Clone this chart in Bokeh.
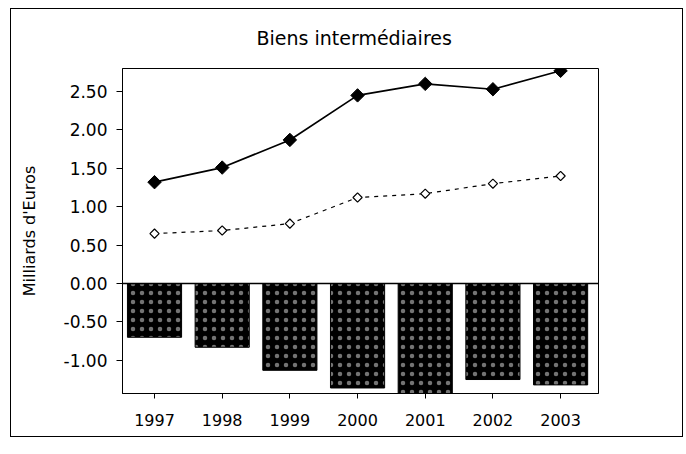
import math
from bokeh.plotting import figure
from bokeh.models import Range1d, FixedTicker, NumeralTickFormatter, Span, ColumnDataSource, Title
from bokeh.embed import file_html
from bokeh.resources import INLINE

years = [1997, 1998, 1999, 2000, 2001, 2002, 2003]
solid_series = [1.32, 1.51, 1.87, 2.45, 2.60, 2.53, 2.77]
dashed_series = [0.65, 0.69, 0.78, 1.12, 1.17, 1.30, 1.40]
bar_series = [-0.70, -0.83, -1.13, -1.36, -1.45, -1.25, -1.32]
y_ticks = [-1.0, -0.5, 0.0, 0.5, 1.0, 1.5, 2.0, 2.5]
title_text = "Biens intermédiaires"
y_label = "Milliards d'Euros"

FONT = "DejaVu Sans"

src = ColumnDataSource(dict(x=years, s=solid_series, d=dashed_series, b=bar_series))

p = figure(width=673, height=429, output_backend="svg", toolbar_location=None,
           x_range=Range1d(1996.527, 2003.56), y_range=Range1d(-1.432, 2.80),
           min_border_left=111, min_border_right=86, min_border_top=59, min_border_bottom=45)
p.styles = {"border": "1px solid black"}
p.margin = (8, 0, 0, 10)

t = Title(text=title_text, align="left", vertical_align="top", text_font=FONT,
          text_font_size="19px", text_font_style="normal", text_color="black",
          standoff=35, offset=134)
p.add_layout(t, "above")

p.xgrid.visible = False
p.ygrid.visible = False
p.outline_line_color = "black"
p.outline_line_width = 1
p.background_fill_color = "white"
p.border_fill_color = "white"

p.vbar(x="x", top=0, bottom="b", width=0.8, source=src, fill_color="black",
       line_color="black", hatch_pattern="dot", hatch_color="white",
       hatch_scale=9, hatch_weight=1, hatch_alpha=0.45)

p.add_layout(Span(location=0, dimension="width", line_color="black", line_width=1.5))

p.line("x", "d", source=src, line_color="black", line_width=1.2, line_dash="4 5")
p.scatter("x", "d", source=src, marker="square", angle=math.pi / 4, size=6.5,
          fill_color="white", line_color="black", line_width=1.2)

p.line("x", "s", source=src, line_color="black", line_width=1.7)
p.scatter("x", "s", source=src, marker="square", angle=math.pi / 4, size=9.5,
          fill_color="black", line_color="black")

p.xaxis.ticker = FixedTicker(ticks=years)
p.xaxis.minor_tick_line_color = None
p.xaxis.major_tick_out = 5
p.xaxis.major_tick_in = 0
p.xaxis.major_label_standoff = 15
p.xaxis.major_label_text_font = FONT
p.xaxis.major_label_text_font_size = "16px"
p.xaxis.major_label_text_color = "black"
p.xaxis.axis_line_color = "black"

p.yaxis.ticker = FixedTicker(ticks=y_ticks)
p.yaxis.formatter = NumeralTickFormatter(format="0.00")
p.yaxis.minor_tick_line_color = None
p.yaxis.major_tick_out = 6
p.yaxis.major_tick_in = 0
p.yaxis.major_label_standoff = 9
p.yaxis.major_label_text_font = FONT
p.yaxis.major_label_text_font_size = "17px"
p.yaxis.major_label_text_color = "black"
p.yaxis.axis_line_color = "black"
p.yaxis.axis_label = y_label
p.yaxis.axis_label_text_font = FONT
p.yaxis.axis_label_text_font_size = "16px"
p.yaxis.axis_label_text_font_style = "normal"
p.yaxis.axis_label_text_color = "black"
p.yaxis.axis_label_standoff = 22

open("out.html", "w").write(file_html(p, INLINE))
